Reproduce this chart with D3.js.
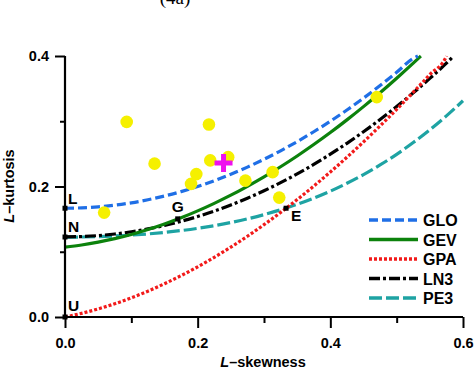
<!DOCTYPE html>
<html><head><meta charset="utf-8">
<script src="https://cdn.jsdelivr.net/npm/d3@7"></script>
<style>body{margin:0;background:#fff}svg{display:block}text{font-family:Arial,"Liberation Sans",sans-serif}</style>
</head><body>
<svg id="c" width="475" height="374"></svg>
<script>
// L-skewness grid for theoretical curves
const tau3 = [0,0.025,0.05,0.075,0.1,0.125,0.15,0.175,0.2,0.225,0.25,0.275,0.3,0.325,0.35,0.375,0.4,0.425,0.45,0.475,0.5,0.525,0.55,0.575,0.6];
// L-kurtosis values of each distribution curve, null = beyond plot top
const gloT4 = [0.1667,0.1672,0.1688,0.1714,0.1750,0.1797,0.1854,0.1922,0.2000,0.2089,0.2188,0.2297,0.2417,0.2547,0.2688,0.2839,0.3000,0.3172,0.3354,0.3547,0.3750,0.3964,null,null,null];
const gevT4 = [0.1070,0.1103,0.1147,0.1201,0.1265,0.1340,0.1425,0.1520,0.1626,0.1742,0.1867,0.2003,0.2148,0.2303,0.2468,0.2643,0.2827,0.3021,0.3224,0.3437,0.3659,0.3890,null,null,null];
const gpaT4 = [0.0000,0.0056,0.0124,0.0203,0.0294,0.0396,0.0510,0.0634,0.0769,0.0915,0.1071,0.1238,0.1415,0.1602,0.1799,0.2006,0.2222,0.2448,0.2683,0.2928,0.3182,0.3445,0.3716,0.3997,null];
const ln3T4 = [0.1228,0.1233,0.1248,0.1272,0.1306,0.1350,0.1403,0.1467,0.1540,0.1624,0.1717,0.1821,0.1935,0.2059,0.2194,0.2339,0.2495,0.2662,0.2839,0.3027,0.3226,0.3436,0.3657,0.3890,null];
const pe3T4 = [0.1224,0.1226,0.1232,0.1241,0.1255,0.1273,0.1297,0.1325,0.1359,0.1400,0.1448,0.1504,0.1569,0.1643,0.1727,0.1822,0.1929,0.2049,0.2182,0.2330,0.2493,0.2673,0.2869,0.3082,0.3314];
// curve end points (where curves reach the top of the plot)
const curveEnd = {GLO:[0.532,0.400], GEV:[0.5365,0.400], GPA:[0.5751,0.400], LN3:[0.586,0.400], PE3:null};
// observed sample L-moment ratios
const obsSkew = [0.093,0.217,0.135,0.219,0.246,0.198,0.190,0.272,0.313,0.323,0.059,0.470];
const obsKurt = [0.299,0.295,0.235,0.240,0.245,0.219,0.204,0.209,0.222,0.183,0.160,0.337];
// regional average
const avgSkew = [0.239], avgKurt = [0.236];
// special points
const specNames = ["L","N","U","G","E"];
const specSkew = [0,0,0,0.1699,0.3333];
const specKurt = [0.1667,0.1226,0,0.1504,0.1667];
const xTicks = [0,0.2,0.4,0.6], xMinor = [0.1,0.3,0.5];
const yTicks = [0,0.2,0.4], yMinor = [0.1,0.3];
const legendNames = ["GLO","GEV","GPA","LN3","PE3"];

const svg = d3.select("#c");
const x = d3.scaleLinear().domain([0,0.6]).range([65,463]);
const y = d3.scaleLinear().domain([0,0.4]).range([317,56]);

const styles = {
  GLO:{c:"#1f6fe6",d:"9,4"},
  GEV:{c:"#0c820c",d:null},
  GPA:{c:"#f21a1a",d:"3,2"},
  LN3:{c:"#000",d:"11,3,3,3"},
  PE3:{c:"#1ea3a3",d:"13,4"}
};
const series = {GLO:gloT4,GEV:gevT4,GPA:gpaT4,LN3:ln3T4,PE3:pe3T4};

// title (cut at top, as in the source)
svg.append("text").attr("x",175).attr("y",4).attr("text-anchor","middle")
  .style("font-family","'Liberation Serif','Times New Roman',serif").style("font-size","19px").text("(4a)");

const line = d3.line().x(d=>x(d[0])).y(d=>y(d[1])).curve(d3.curveMonotoneX);
["PE3","LN3","GPA","GEV","GLO"].forEach(k=>{
  const pts = tau3.map((t,i)=>[t,series[k][i]]).filter(p=>p[1]!==null);
  if (curveEnd[k]) pts.push(curveEnd[k]);
  svg.append("path").attr("d",line(pts)).attr("fill","none")
    .attr("stroke",styles[k].c).attr("stroke-width",3.2)
    .attr("stroke-dasharray",styles[k].d);
});

// axes
const xa = d3.axisBottom(x).tickValues(xTicks).tickFormat(d3.format(".1f")).tickSize(11).tickPadding(10);
const gx = svg.append("g").attr("transform","translate(0,317)").call(xa);
const ya = d3.axisLeft(y).tickValues(yTicks).tickFormat(d3.format(".1f")).tickSize(10).tickPadding(6);
const gy = svg.append("g").attr("transform","translate(65,0)").call(ya);
[gx,gy].forEach(g=>{
  g.select(".domain").attr("stroke","#000").attr("stroke-width",2.2);
  g.selectAll(".tick line").attr("stroke","#000").attr("stroke-width",2);
  g.selectAll(".tick text").style("font-size","14.5px").style("font-weight","bold").attr("fill","#000");
});
gx.select(".domain").attr("d","M65,0H463");
gy.select(".domain").attr("d","M0,317V56");
svg.append("g").attr("transform","translate(0,317)").call(d3.axisBottom(x).tickValues(xMinor).tickSize(6).tickFormat(""))
  .call(g=>{g.select(".domain").remove();g.selectAll("line").attr("stroke","#000").attr("stroke-width",2);});
svg.append("g").attr("transform","translate(65,0)").call(d3.axisLeft(y).tickValues(yMinor).tickSize(5).tickFormat(""))
  .call(g=>{g.select(".domain").remove();g.selectAll("line").attr("stroke","#000").attr("stroke-width",2);});

// axis titles
const xt = svg.append("text").attr("x",263).attr("y",367).attr("text-anchor","middle")
  .style("font-size","14.5px").style("font-weight","bold");
xt.append("tspan").style("font-style","italic").text("L");
xt.append("tspan").text("\u2013skewness");
const yt = svg.append("text").attr("transform","translate(14,186) rotate(-90)").attr("text-anchor","middle")
  .style("font-size","14.5px").style("font-weight","bold");
yt.append("tspan").style("font-style","italic").text("L");
yt.append("tspan").text("\u2013kurtosis");

// observed points
svg.append("g").selectAll("circle").data(obsSkew).join("circle")
  .attr("cx",d=>x(d)).attr("cy",(d,i)=>y(obsKurt[i])).attr("r",6.3).attr("fill","#f5f000");

// regional average cross
avgSkew.forEach((s,i)=>{
  const cx=x(s), cy=y(avgKurt[i]);
  svg.append("path").attr("d",`M${cx-9},${cy}H${cx+9}M${cx},${cy-9}V${cy+9}`)
    .attr("stroke","#ee10ee").attr("stroke-width",5).attr("fill","none");
});

// special points
const labOff = {L:[3,-4],N:[3,-5],U:[3,-6],G:[-6,-7],E:[5,13]};
specNames.forEach((n,i)=>{
  const px=x(specSkew[i]), py=y(specKurt[i]);
  svg.append("rect").attr("x",px-2.5).attr("y",py-2.5).attr("width",5).attr("height",5).attr("fill","#000");
  svg.append("text").attr("x",px+labOff[n][0]).attr("y",py+labOff[n][1])
    .style("font-size","15.5px").style("font-weight","bold").text(n);
});

// legend
legendNames.forEach((n,i)=>{
  const ly = 220 + i*19.5;
  svg.append("line").attr("x1",369).attr("x2",418).attr("y1",ly).attr("y2",ly)
    .attr("stroke",styles[n].c).attr("stroke-width",3.5).attr("stroke-dasharray",styles[n].d);
  svg.append("text").attr("x",423).attr("y",ly+6).style("font-size","16px").style("font-weight","bold").text(n);
});
</script>
</body></html>
